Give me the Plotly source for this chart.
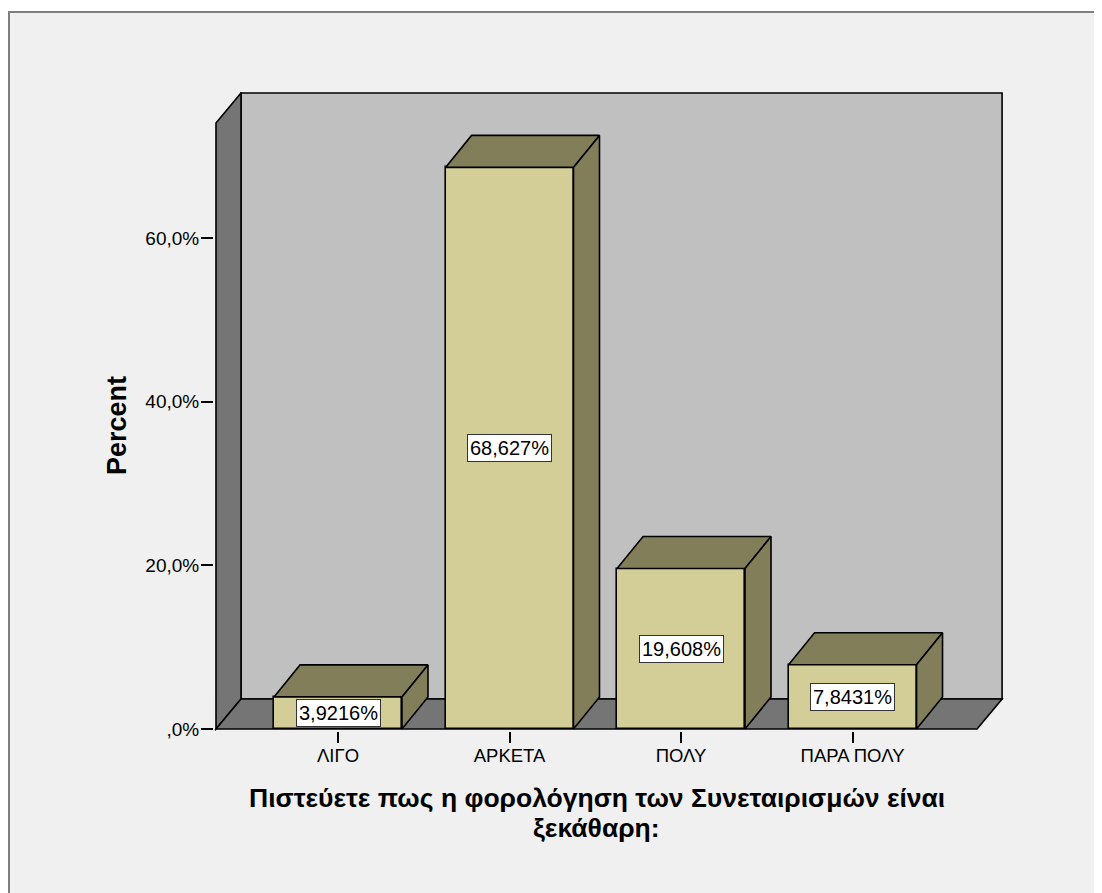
import plotly.graph_objects as go

# ---------------- data ----------------
categories = ["ΛΙΓΟ", "ΑΡΚΕΤΑ", "ΠΟΛΥ", "ΠΑΡΑ ΠΟΛΥ"]
percents = [3.9216, 68.627, 19.608, 7.8431]
y_tick_values = [0, 20, 40, 60]
y_tick_labels = [",0%", "20,0%", "40,0%", "60,0%"]
x_title_lines = ["Πιστεύετε πως η φορολόγηση των Συνεταιρισμών είναι", "ξεκάθαρη:"]
y_title = "Percent"

# ---------------- style / geometry ----------------
FONT = "Liberation Sans, Arial, sans-serif"
OFF = 8                                # default page body margin
W, H = 1102 - OFF, 893 - OFF
ML, MR, MT, MB = 214 - OFF, 98, 92 - OFF, 162
X_RANGE = [-0.723, 3.883]
Y_RANGE = [-0.244, 77.84]
FRONT_X0, FRONT_X1 = -0.7114, 3.726   # front face edges of the chart box
WALL_TOP = 74.05                      # front top of the left wall
WALL_DX, WALL_DY = 0.1458, 3.67       # depth offset of walls (data units)
BAR_W = 0.746
BAR_DX, BAR_DY = 0.1516, 3.91         # depth offset of bars (data units)

BAR_FRONT = "#D3CE97"
BAR_DARK = "#827E5A"
BACK_WALL = "#C0C0C0"
SIDE_WALL = "#757575"
EDGE = "#000000"
LW = 1.6


def px_to_paper_x(px):  # page pixel -> paper
    return (px - OFF - ML) / (W - ML - MR)


def px_to_paper_y(py):
    return 1 - (py - OFF - MT) / (H - MT - MB)


fig = go.Figure()

# front faces of bars
fig.add_trace(go.Bar(
    x=list(range(len(categories))), y=percents, width=BAR_W,
    marker=dict(color=BAR_FRONT, line=dict(color=EDGE, width=LW)),
    hoverinfo="skip", showlegend=False,
))

# top and side faces of bars
for i, v in enumerate(percents):
    l, r = i - BAR_W / 2, i + BAR_W / 2
    top_x = [l, l + BAR_DX, r + BAR_DX, r, l]
    top_y = [v, v + BAR_DY, v + BAR_DY, v, v]
    side_x = [r, r, r + BAR_DX, r + BAR_DX, r]
    side_y = [0, v, v + BAR_DY, BAR_DY, 0]
    for xs, ys in ((top_x, top_y), (side_x, side_y)):
        fig.add_trace(go.Scatter(
            x=xs, y=ys, mode="lines", fill="toself", fillcolor=BAR_DARK,
            line=dict(color=EDGE, width=LW), hoverinfo="skip", showlegend=False,
        ))


def path(pts):
    return "M " + " L ".join(f"{x},{y}" for x, y in pts) + " Z"


shapes = []
# outer frame
shapes.append(dict(type="rect", xref="paper", yref="paper", layer="below",
                   x0=px_to_paper_x(9), x1=px_to_paper_x(1120),
                   y0=px_to_paper_y(12), y1=px_to_paper_y(920),
                   fillcolor="#F0F0F0", line=dict(color="#7F7F7F", width=2)))
# back wall
shapes.append(dict(type="path", xref="x", yref="y", layer="below",
                   path=path([(FRONT_X0 + WALL_DX, WALL_DY),
                              (FRONT_X0 + WALL_DX, WALL_TOP + WALL_DY),
                              (FRONT_X1 + WALL_DX, WALL_TOP + WALL_DY),
                              (FRONT_X1 + WALL_DX, WALL_DY)]),
                   fillcolor=BACK_WALL, line=dict(color=EDGE, width=LW)))
# left wall
shapes.append(dict(type="path", xref="x", yref="y", layer="below",
                   path=path([(FRONT_X0, 0), (FRONT_X0, WALL_TOP),
                              (FRONT_X0 + WALL_DX, WALL_TOP + WALL_DY),
                              (FRONT_X0 + WALL_DX, WALL_DY)]),
                   fillcolor=SIDE_WALL, line=dict(color=EDGE, width=LW)))
# floor
shapes.append(dict(type="path", xref="x", yref="y", layer="below",
                   path=path([(FRONT_X0, 0), (FRONT_X1, 0),
                              (FRONT_X1 + WALL_DX, WALL_DY),
                              (FRONT_X0 + WALL_DX, WALL_DY)]),
                   fillcolor=SIDE_WALL, line=dict(color=EDGE, width=LW)))

annotations = []
for i, v in enumerate(percents):
    annotations.append(dict(
        x=i, y=v / 2, xref="x", yref="y", showarrow=False,
        text=f"{v:.5g}".replace(".", ",") + "%",
        font=dict(family=FONT, size=20, color="#000"),
        bgcolor="white", bordercolor="#333", borderwidth=1, borderpad=2,
    ))

for k, line in enumerate(x_title_lines):
    annotations.append(dict(
        x=(FRONT_X0 + FRONT_X1) / 2, xref="x", y=px_to_paper_y(798 + 30 * k), yref="paper",
        text=f"<b>{line}</b>", showarrow=False, xanchor="center", yanchor="middle",
        font=dict(family=FONT, size=26.5, color="#000"),
    ))
annotations.append(dict(
    x=px_to_paper_x(117), xref="paper", y=WALL_TOP / 2, yref="y",
    text=f"<b>{y_title}</b>", showarrow=False, textangle=-90,
    xanchor="center", yanchor="middle",
    font=dict(family=FONT, size=27, color="#000"),
))

fig.update_layout(
    width=W, height=H,
    margin=dict(l=ML, r=MR, t=MT, b=MB, pad=0),
    paper_bgcolor="white", plot_bgcolor="rgba(0,0,0,0)",
    shapes=shapes, annotations=annotations, showlegend=False,
    font=dict(family=FONT, size=18, color="#000"),
    bargap=0,
)
fig.update_xaxes(
    range=X_RANGE, tickvals=list(range(len(categories))), ticktext=categories,
    ticks="outside", ticklen=11, tickwidth=1.6, tickcolor="#000",
    showgrid=False, zeroline=False, showline=False, ticklabelstandoff=-3,
    tickfont=dict(family=FONT, size=18.5, color="#000"),
)
fig.update_yaxes(
    range=Y_RANGE, tickvals=y_tick_values, ticktext=y_tick_labels,
    ticks="outside", ticklen=12, tickwidth=1.6, tickcolor="#000",
    showgrid=False, zeroline=False, showline=False, ticklabelstandoff=-2,
    tickfont=dict(family=FONT, size=19, color="#000"),
)

fig.write_html("out.html")
